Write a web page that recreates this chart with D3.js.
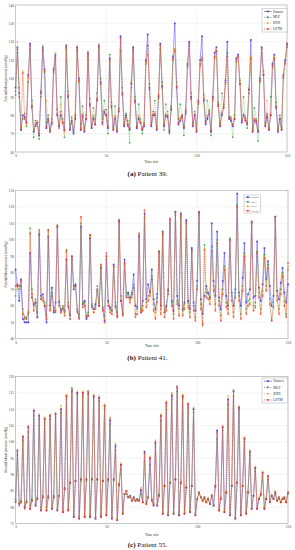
<!DOCTYPE html>
<html>
<head>
<meta charset="utf-8">
<script src="https://cdn.jsdelivr.net/npm/d3@7"></script>
<style>
  html, body { margin: 0; padding: 0; background: #fff; }
  svg { display: block; }
  text { font-family: "Liberation Serif", "DejaVu Serif", serif; }
</style>
</head>
<body>
<div id="chart"></div>
<script>
// legend names
const seriesNames = ["Dataset", "MLP", "RNN", "LSTM"];
const xTicks = [0, 50, 100, 150];

// Patient 39
const p39Dataset = [95,117,92,72,80,79,76,102,119,85,
71,75,76,69,92,117,105,73,78,71,
76,105,113,80,74,80,76,72,118,90,
72,77,70,78,117,100,72,80,71,78,
114,86,73,78,75,88,118,98,76,82,
80,73,111,85,72,78,71,82,123,92,
74,80,75,72,97,117,88,73,78,76,
72,74,110,124,95,74,80,80,72,90,
119,96,74,80,79,71,83,112,130,95,
75,77,79,73,81,108,120,90,74,80,
71,88,110,123,88,75,78,81,71,90,
114,117,85,74,80,84,99,120,78,77,
74,78,111,113,97,76,80,77,75,94,
121,71,77,76,71,100,117,102,74,79,
72,80,108,113,84,71,78,72,102,110,119];
const p39MLP = [91,114,95,74,78,81,74,98,116,88,
68,77,74,67,90,115,103,76,80,73,
78,103,111,83,75,90,78,68,116,93,
75,79,72,80,115,98,75,85,73,80,
112,89,75,84,78,92,116,100,78,88,
83,70,113,87,74,85,73,84,115,95,
76,81,77,65,95,115,90,74,86,78,
70,76,108,113,97,76,82,88,74,89,
116,98,72,86,82,70,85,110,116,98,
78,86,80,69,83,106,118,92,76,82,
73,86,108,110,91,77,88,83,69,88,
111,115,87,76,92,86,97,114,79,79,
68,80,109,112,99,78,90,79,73,92,
112,73,84,78,66,98,114,104,76,81,
74,90,106,111,87,73,80,74,100,108,117];
const p39RNN = [96,120,93,74,104,80,75,100,117,86,
72,76,77,70,94,118,104,88,79,72,
77,106,114,84,75,86,77,71,117,91,
73,78,71,88,118,99,73,81,72,79,
115,87,74,80,76,89,119,97,77,83,
81,74,110,86,73,80,72,83,122,93,
75,79,76,73,99,116,89,74,80,77,
73,75,109,118,96,75,81,82,73,91,
118,95,75,81,80,72,84,111,116,96,
76,79,80,74,82,107,119,89,75,81,
72,87,109,112,90,76,80,82,72,89,
112,116,86,75,82,85,98,111,79,78,
75,79,110,112,98,77,81,78,76,95,
112,72,78,77,72,99,116,103,75,88,
73,81,107,112,85,72,79,73,101,109,118];
const p39LSTM = [93,116,90,73,103,78,76,101,118,84,
72,74,76,70,93,116,104,74,77,72,
75,104,112,81,73,82,76,72,117,91,
73,76,71,79,116,99,73,79,72,78,
113,85,74,79,75,89,117,97,75,81,
80,74,110,84,73,79,72,83,122,91,
75,79,74,73,98,116,87,74,79,76,
73,75,109,118,94,75,80,81,73,91,
118,95,75,79,80,72,84,111,115,96,
76,78,80,74,82,107,119,89,75,80,
72,87,107,111,89,76,79,82,72,89,
112,115,86,75,81,85,98,112,79,78,
75,78,110,112,97,77,80,78,76,94,
111,72,78,77,72,99,116,102,75,80,
73,80,107,111,85,72,78,73,101,109,118];

// Patient 41
const p41Dataset = [82,72,63,76,52,50,50,50,92,65,
61,62,53,103,66,67,60,50,102,60,
71,56,62,108,62,57,59,57,88,60,
54,90,70,73,57,53,108,61,63,52,
54,101,60,58,61,70,60,83,58,51,
90,63,59,57,85,60,54,111,63,55,
88,66,68,65,67,79,60,59,102,56,
63,116,64,73,68,82,64,58,67,93,
60,105,56,60,69,112,63,57,117,66,
60,116,58,62,112,63,58,95,62,57,
75,117,64,55,66,72,68,65,110,75,
66,105,65,58,75,92,66,60,100,68,
60,70,128,68,60,77,98,62,67,70,
111,65,66,99,71,63,73,95,76,87,
72,60,66,114,69,64,74,83,68,62,73];
const p41MLP = [66,73,70,72,58,52,53,55,107,70,
60,64,56,104,64,65,62,54,106,58,
68,59,56,109,63,58,60,56,94,62,
55,88,72,72,58,55,110,62,62,54,
56,103,61,58,60,72,62,84,59,54,
88,62,58,57,83,62,56,112,66,56,
85,68,67,64,68,73,55,58,103,58,
60,113,62,66,69,78,61,56,65,92,
58,103,56,59,70,110,62,55,115,63,
58,114,57,61,110,62,56,93,60,53,
72,115,61,48,97,68,67,64,96,72,
61,100,63,54,70,84,62,58,101,66,
56,68,121,66,55,72,92,58,63,64,
110,60,62,93,68,58,69,91,72,85,
64,52,62,112,66,58,70,80,63,55,82];
const p41RNN = [70,73,72,74,56,54,52,57,104,68,
58,63,54,105,65,64,61,52,105,58,
66,58,58,108,61,56,59,55,93,60,
52,89,71,71,57,53,113,60,61,53,
55,102,60,56,59,70,61,85,58,52,
90,60,57,55,84,60,53,112,64,55,
86,66,66,63,66,72,54,55,103,57,
58,114,60,64,67,77,58,53,63,93,
56,104,54,58,68,112,61,53,116,62,
55,115,55,59,111,60,54,94,58,52,
70,115,59,50,95,66,65,62,94,70,
58,99,61,52,68,83,60,56,100,64,
54,66,120,64,53,70,91,56,61,62,
111,58,60,92,66,56,67,90,70,84,
62,51,60,113,64,56,68,79,61,54,84];
const p41LSTM = [72,73,72,75,55,53,52,56,104,67,
57,62,53,106,64,63,60,52,106,57,
66,57,57,108,60,56,58,54,93,59,
52,90,72,72,56,52,114,59,60,53,
54,103,59,56,58,69,60,85,57,50,
92,60,56,55,84,59,53,112,63,54,
86,65,65,62,65,71,53,55,104,56,
57,118,59,63,66,76,57,52,62,93,
55,104,53,57,67,113,60,52,117,61,
54,115,54,58,111,59,53,94,57,51,
70,116,58,49,94,65,64,61,93,69,
57,98,60,51,67,82,59,55,100,63,
53,65,120,63,52,69,90,55,60,61,
111,57,59,92,65,55,66,89,69,83,
61,51,59,114,63,55,67,78,60,53,86];

// Patient 55
const p55Dataset = [82,97.5,81,81.5,101.5,80,81.5,104.5,79.5,82,
109.5,80.5,82.5,108,79,83,107,79,83,108,
79.5,83,108.5,79,83.5,110,78.5,85.5,114,79,
87.5,116,77,88,115,76.5,88.5,115,77,88.5,
115.5,77,88.5,114,76.5,88.5,113.5,77,88,111,
77.5,88.5,106.5,76.5,88.5,98.5,76,87,93,78,
84,85,83,83.5,82,83,82,82.5,82,85,
81.5,97,81,83,95,82,80.5,99.5,80.5,83.5,
108,78,86.5,112,77.5,87.5,114,78,88.5,117,
77.5,87.5,114,78,86,111.5,78.5,86.5,110,77.5,
82.5,84.5,83,82,83,81.5,82.5,81,83.5,80.5,
86.5,103.5,79,82.5,104.5,78.5,84.5,113,77.5,86.5,
115.5,76.5,87.5,110.5,77.5,86.5,101,78,84.5,97,
79.5,83.5,92,79.5,82.5,84,90.5,79.5,82.5,89.5,
81.5,83.5,82.5,84.5,82,83,81.5,82.5,83,81.5,84.5];
const p55MLP = [82.5,96,81.5,82,100.5,80.5,82,103,80.5,82.5,
108,81,83,107,80,83.5,106,80,83.5,107,
80,83.5,107.5,79.5,83.5,109,79,86,113,79.5,
87.5,116.5,77.5,88,114.5,77,88,114,77.5,88,
114.5,77.5,88.5,113.5,77,88.5,112.5,77.5,88,110,
78,88,105.5,77,88,97.5,76.5,86.5,91.5,78.5,
84,84,83,83,82,82.5,82,82,82,84,
81.5,94,81.5,83,93,82.5,81,98.5,81,84,
106.5,78.5,86.5,111,78,87.5,113,78.5,88.5,115.5,
78,87.5,113.5,78.5,86,110.5,79,86.5,109,78,
82.5,84,83,82,82.5,81.5,82.5,81,83.5,80.5,
86,101,79,83,103.5,79,84.5,111.5,78,86.5,
114,77,87.5,110,78,86.5,100,78.5,84.5,96,
80,83.5,91,80,82.5,83.5,89.5,80,82.5,88.5,
82,83.5,82.5,84,82,82.5,81.5,82.5,82.5,81.5,84];
const p55RNN = [82,97.5,81.5,81.5,102,80.5,81.5,105,80,82,
110,81,82.5,108.5,79.5,83,107.5,79.5,83,108.5,
80,83,109,79.5,83.5,111,79,85.5,114.5,79.5,
87.5,116,77.5,88.5,115.5,77,89,115.5,77.5,88.5,
115.5,77.5,89,114.5,77,88.5,114,77.5,88.5,111.5,
78,88.5,107.5,77,89,99.5,76.5,87.5,93.5,78.5,
84,85,83,83.5,82.5,83,82,82.5,82,86,
81.5,96,81,83,95.5,82,80.5,100.5,81,83.5,
108.5,78.5,87,112.5,78,87.5,115,78.5,89,117,
78,88,114.5,78.5,86.5,112,79,87,110.5,78,
82.5,84.5,83,82.5,83,82,83,81.5,84,81,
87,102.5,79.5,83,105,79,85,114,78,87,
116,77,88,111,78,87,101.5,78.5,85,97.5,
80,83.5,92.5,80,83,84.5,91,80,83,89.5,
82,84,83,85,82.5,83,82,83,83,82,84.5];
const p55LSTM = [81.5,97,80.5,81.5,101.5,79.5,81.5,104.5,79.5,82,
109.5,80.5,82.5,108,79,83,107,79,83,108,
79.5,83,108.5,79,83.5,110,78.5,85.5,114,79,
87.5,115.5,77,88,115,76.5,88.5,115,77,88.5,
115,77,88.5,114,76.5,88.5,113.5,77,88,111,
77.5,88.5,107,76.5,88.5,99,76,87,93,78,
84,85,83,83.5,82,83,82,82.5,82,85.5,
81.5,96.5,81,83,95,82,80.5,100,80.5,83.5,
108,78,86.5,112,77.5,87.5,114.5,78,88.5,116.5,
77.5,87.5,114,78,86,111.5,78.5,86.5,110,77.5,
82.5,84.5,83,82,83,81.5,82.5,81,83.5,80.5,
86.5,103,79,82.5,104.5,78.5,84.5,113,77.5,86.5,
115.5,76.5,87.5,110.5,77.5,86.5,101,78,84.5,97,
79.5,83.5,92,79.5,82.5,84,90.5,79.5,82.5,89.5,
81.5,83.5,82.5,84.5,82,83,81.5,82.5,83,81.5,84.5];

const colors = ["#2e2eff", "#22a022", "#ffa226", "#ff2a2a"];

const svg = d3.select("#chart").append("svg")
  .attr("width", 295)
  .attr("height", 550);

// one panel per patient
const panels = [
  { letter: "(a)", title: "Patient 39.", series: [p39Dataset, p39MLP, p39RNN, p39LSTM],
    yDomain: [60, 140], yTicks: [60, 70, 80, 90, 100, 110, 120, 130, 140],
    top: 5, bottom: 152, right: 287, xlabY: 163, capY: 176,
    legend: { x: 262, y: 8.5, w: 25, h: 23.5, fs: 3.4 } },
  { letter: "(b)", title: "Patient 41.", series: [p41Dataset, p41MLP, p41RNN, p41LSTM],
    yDomain: [40, 130], yTicks: [40, 50, 60, 70, 80, 90, 100, 110, 120, 130],
    top: 190.3, bottom: 338.8, right: 288, xlabY: 347, capY: 359.5,
    legend: { x: 244, y: 195, w: 16.5, h: 18, fs: 2.6 } },
  { letter: "(c)", title: "Patient 55.", series: [p55Dataset, p55MLP, p55RNN, p55LSTM],
    yDomain: [75, 120], yTicks: [75, 80, 85, 90, 95, 100, 105, 110, 115, 120],
    top: 376.5, bottom: 523.5, right: 288, xlabY: 535.5, capY: 546.5,
    legend: { x: 262, y: 378, w: 25.5, h: 25, fs: 3.5 } }
];

panels.forEach(p => {
  const left = 15.6;
  const x = d3.scaleLinear().domain([0, 150]).range([left, p.right]);
  const y = d3.scaleLinear().domain(p.yDomain).range([p.bottom, p.top]);
  const g = svg.append("g");

  // grid
  g.selectAll(".gx").data(xTicks).join("line")
    .attr("x1", d => x(d)).attr("x2", d => x(d))
    .attr("y1", p.top).attr("y2", p.bottom)
    .attr("stroke", "#e3e3e3").attr("stroke-width", 0.4);
  g.selectAll(".gy").data(p.yTicks).join("line")
    .attr("x1", left).attr("x2", p.right)
    .attr("y1", d => y(d)).attr("y2", d => y(d))
    .attr("stroke", "#e3e3e3").attr("stroke-width", 0.4);

  // axes (labels only)
  const xAxis = g.append("g").attr("transform", `translate(0,${p.bottom})`)
    .call(d3.axisBottom(x).tickValues(xTicks).tickSize(0).tickPadding(2.2));
  const yAxis = g.append("g").attr("transform", `translate(${left},0)`)
    .call(d3.axisLeft(y).tickValues(p.yTicks).tickSize(0).tickPadding(1.6));
  [xAxis, yAxis].forEach(a => {
    a.select(".domain").remove();
    a.selectAll("text").attr("font-size", 3.6).attr("fill", "#444")
      .attr("font-family", "Liberation Serif, serif");
  });

  // box
  g.append("rect")
    .attr("x", left).attr("y", p.top)
    .attr("width", p.right - left).attr("height", p.bottom - p.top)
    .attr("fill", "none").attr("stroke", "#9a9a9a").attr("stroke-width", 0.5);

  // series
  p.series.forEach((vals, i) => {
    const pts = vals.map((v, t) => [t, v]);
    const line = d3.line().x(d => x(d[0])).y(d => y(d[1]));
    g.append("path")
      .datum(pts)
      .attr("d", line)
      .attr("fill", "none")
      .attr("stroke", colors[i])
      .attr("stroke-width", i === 0 ? 0.6 : 0.5)
      .attr("stroke-dasharray", i === 0 ? null : "1.2,0.8")
      .attr("opacity", 0.75);
    const s = i === 0 ? 1.7 : 1.5;
    g.append("g").selectAll("rect").data(pts).join("rect")
      .attr("x", d => x(d[0]) - s / 2)
      .attr("y", d => y(d[1]) - s / 2)
      .attr("width", s).attr("height", s)
      .attr("fill", colors[i])
      .attr("opacity", 0.85);
  });

  // labels
  g.append("text")
    .attr("x", (left + p.right) / 2).attr("y", p.xlabY)
    .attr("text-anchor", "middle").attr("font-size", 3.6).attr("fill", "#333")
    .text("Time slot");
  g.append("text")
    .attr("transform", `translate(7,${(p.top + p.bottom) / 2}) rotate(-90)`)
    .attr("text-anchor", "middle").attr("font-size", 3.6).attr("fill", "#333")
    .text("Arterial blood pressure (mmHg)");

  const cap = g.append("text")
    .attr("x", 147.5).attr("y", p.capY)
    .attr("text-anchor", "middle").attr("font-size", 7).attr("fill", "#111");
  cap.append("tspan").attr("font-weight", "bold").text(p.letter);
  cap.append("tspan").text(" " + p.title);

  // legend
  const L = p.legend;
  const lg = g.append("g");
  lg.append("rect")
    .attr("x", L.x).attr("y", L.y).attr("width", L.w).attr("height", L.h)
    .attr("fill", "#fff").attr("stroke", "#9a9a9a").attr("stroke-width", 0.4);
  const rowH = L.h / 4;
  seriesNames.forEach((name, i) => {
    const cy = L.y + rowH * (i + 0.5);
    const lx0 = L.x + L.w * 0.08, lx1 = L.x + L.w * 0.38;
    lg.append("line")
      .attr("x1", lx0).attr("x2", lx1).attr("y1", cy).attr("y2", cy)
      .attr("stroke", colors[i]).attr("stroke-width", 0.6)
      .attr("stroke-dasharray", i === 0 ? null : "1.2,0.8");
    lg.append("rect")
      .attr("x", (lx0 + lx1) / 2 - 0.8).attr("y", cy - 0.8)
      .attr("width", 1.6).attr("height", 1.6).attr("fill", colors[i]);
    lg.append("text")
      .attr("x", L.x + L.w * 0.44).attr("y", cy + L.fs * 0.33)
      .attr("font-size", L.fs).attr("fill", "#333")
      .text(name);
  });
});
</script>
</body>
</html>
